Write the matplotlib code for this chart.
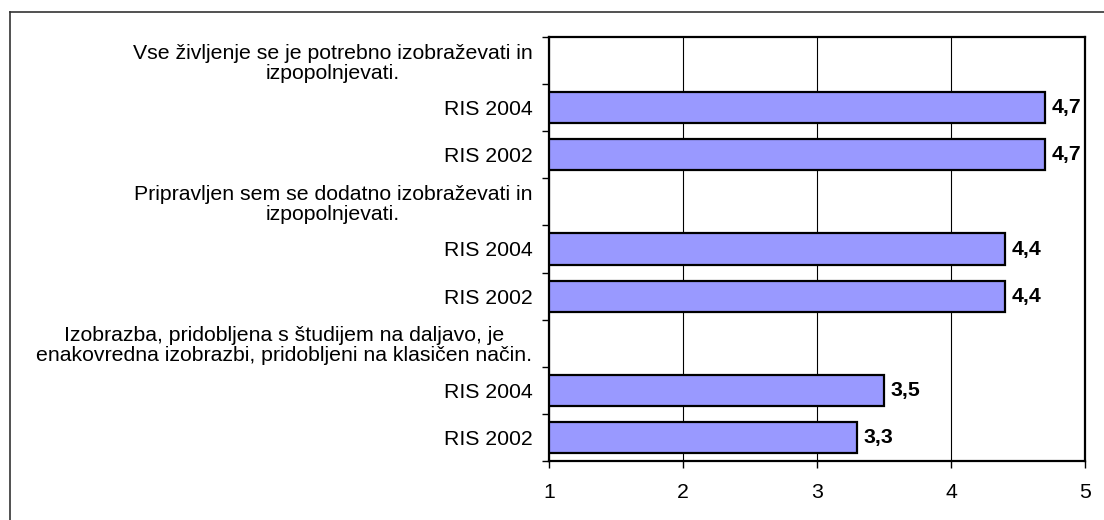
import matplotlib
matplotlib.use('Agg')
import matplotlib.pyplot as plt
from matplotlib.lines import Line2D
import numpy as np

# rows top to bottom; header rows carry no value
row_labels = [
    'Vse življenje se je potrebno izobraževati in\nizpopolnjevati.',
    'RIS 2004',
    'RIS 2002',
    'Pripravljen sem se dodatno izobraževati in\nizpopolnjevati.',
    'RIS 2004',
    'RIS 2002',
    'Izobrazba, pridobljena s študijem na daljavo, je\nenakovredna izobrazbi, pridobljeni na klasičen način.',
    'RIS 2004',
    'RIS 2002',
]
values = [np.nan, 4.7, 4.7, np.nan, 4.4, 4.4, np.nan, 3.5, 3.3]
x_ticks = [1, 2, 3, 4, 5]

plt.rcParams['font.family'] = ['Liberation Sans', 'DejaVu Sans']
FS = 15.3

fig = plt.figure(figsize=(11.04, 5.2), dpi=100)
ax = fig.add_axes([549 / 1104, 1 - 461 / 520, (1085 - 549) / 1104, (461 - 37) / 520])

pos = np.arange(len(row_labels))
vals = np.array(values)
ok = ~np.isnan(vals)
ax.barh(pos[ok], vals[ok] - 1, left=1, height=0.66, color='#9999FF',
        edgecolor='black', linewidth=1.6, zorder=3)

for p, v in zip(pos[ok], vals[ok]):
    ax.text(v + 0.05, p, f'{v:.1f}'.replace('.', ','), ha='left', va='center',
            fontsize=FS, fontweight='bold', zorder=4)

ax.set_xlim(1, 5)
ax.set_ylim(len(row_labels) - 0.5, -0.5)
ax.set_xticks(x_ticks)
ax.set_xticklabels([str(t) for t in x_ticks], fontsize=FS)
ax.xaxis.grid(True, color='black', linewidth=0.8, zorder=1)

ax.set_yticks(pos)
ax.set_yticklabels(row_labels, fontsize=FS, multialignment='center', linespacing=1.08)
ax.set_yticks(np.arange(len(row_labels) + 1) - 0.5, minor=True)
ax.tick_params(axis='y', which='major', length=0, pad=12)
ax.tick_params(axis='y', which='minor', length=5, width=1, direction='out')
ax.tick_params(axis='x', which='major', length=5, width=1, direction='out', pad=11)

for s in ax.spines.values():
    s.set_linewidth(1.6)
    s.set_color('black')

# outer chart frame (only left and top are visible in the crop)
fig.add_artist(Line2D([10 / 1104, 10 / 1104], [0, 1 - 11.5 / 520],
                      transform=fig.transFigure, color='#333333', linewidth=1.2))
fig.add_artist(Line2D([10 / 1104, 1], [1 - 11.5 / 520, 1 - 11.5 / 520],
                      transform=fig.transFigure, color='#333333', linewidth=1.2))

fig.savefig('out.png', dpi=100, facecolor='white')
